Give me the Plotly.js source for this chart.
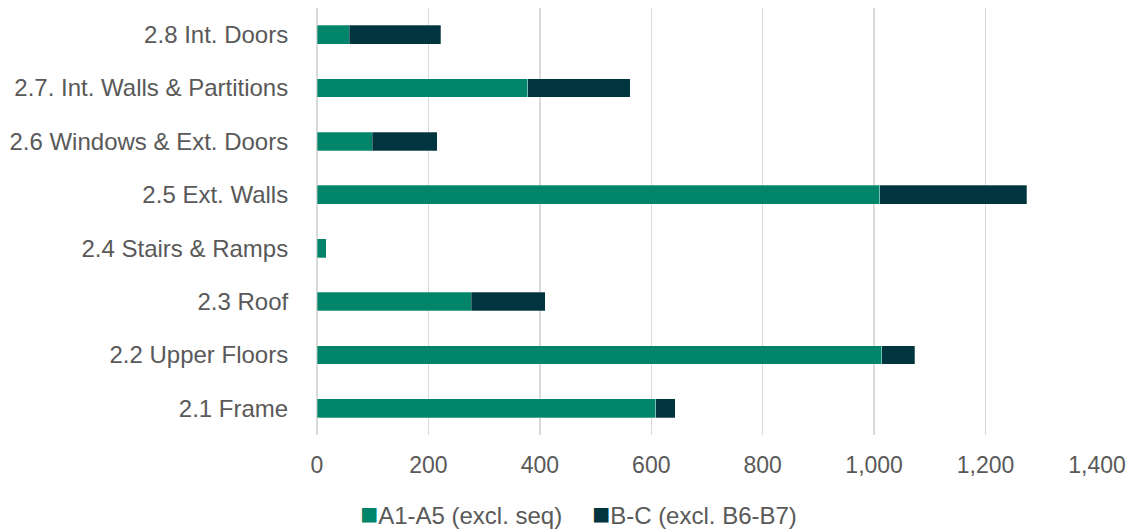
<!DOCTYPE html>
<html>
<head>
<meta charset="utf-8">
<script src="https://cdn.plot.ly/plotly-3.0.1.min.js"></script>
<style>
  html, body { margin: 0; padding: 0; background: #ffffff; }
  #chart { width: 1136px; height: 532px; }
</style>
</head>
<body>
<div id="chart"></div>
<script>
// Building elements, listed bottom to top
const categories = [
  "2.1 Frame",
  "2.2 Upper Floors",
  "2.3 Roof",
  "2.4 Stairs & Ramps",
  "2.5 Ext. Walls",
  "2.6 Windows & Ext. Doors",
  "2.7. Int. Walls & Partitions",
  "2.8 Int. Doors"
];

// Embodied carbon by life-cycle stage group
const seriesA = [608, 1014, 277, 17, 1010, 99, 378, 58];   // A1-A5 (excl. seq)
const seriesB = [35, 59, 133, 0, 264, 117, 184, 164];      // B-C (excl. B6-B7)

const seriesNames = ["A1-A5 (excl. seq)", "B-C (excl. B6-B7)"];
const seriesColors = ["#00856A", "#00343E"];
const xTicks = [0, 200, 400, 600, 800, 1000, 1200, 1400];

const font = '"Liberation Sans", Arial, sans-serif';
const textColor = "#595959";
const labelSize = 24;
const tickSize = 23;

const traces = [seriesA, seriesB].map((vals, i) => ({
  type: "bar",
  orientation: "h",
  name: seriesNames[i],
  y: categories,
  x: vals,
  showlegend: false,
  marker: { color: seriesColors[i], line: { color: "rgba(255,255,255,0.35)", width: 0.8 } },
  hoverinfo: "x+name"
}));

// Legend row below the axis: a coloured square followed by the series name
const legendX = [0.0526, 0.3505];
const legendItems = seriesNames.map((name, i) => ({
  xref: "paper",
  yref: "paper",
  x: legendX[i],
  xanchor: "left",
  y: -0.184,
  yanchor: "middle",
  showarrow: false,
  align: "left",
  text: '<span style="color:' + seriesColors[i] + ';font-size:30px">■</span>' + name,
  font: { family: font, size: labelSize, color: textColor }
}));

const layout = {
  width: 1136,
  height: 532,
  barmode: "stack",
  bargap: 0.65,
  paper_bgcolor: "#ffffff",
  plot_bgcolor: "#ffffff",
  margin: { l: 317, r: 39, t: 8, b: 97, autoexpand: false },
  font: { family: font, size: labelSize, color: textColor },
  xaxis: {
    range: [0, 1400],
    tickvals: xTicks,
    tickformat: ",d",
    automargin: false,
    showgrid: true,
    gridcolor: "#D9D9D9",
    gridwidth: 1.4,
    zeroline: true,
    zerolinecolor: "#D9D9D9",
    zerolinewidth: 1.4,
    showline: false,
    ticks: "outside",
    ticklen: 9,
    tickcolor: "rgba(0,0,0,0)",
    tickfont: { family: font, size: tickSize, color: textColor },
    fixedrange: true
  },
  yaxis: {
    type: "category",
    categoryorder: "array",
    categoryarray: categories,
    automargin: false,
    showgrid: false,
    zeroline: false,
    showline: false,
    ticks: "outside",
    ticklen: 23,
    tickcolor: "rgba(0,0,0,0)",
    tickfont: { family: font, size: labelSize, color: textColor },
    fixedrange: true
  },
  showlegend: false,
  annotations: legendItems
};

Plotly.newPlot("chart", traces, layout, { displayModeBar: false, staticPlot: true });
</script>
</body>
</html>
